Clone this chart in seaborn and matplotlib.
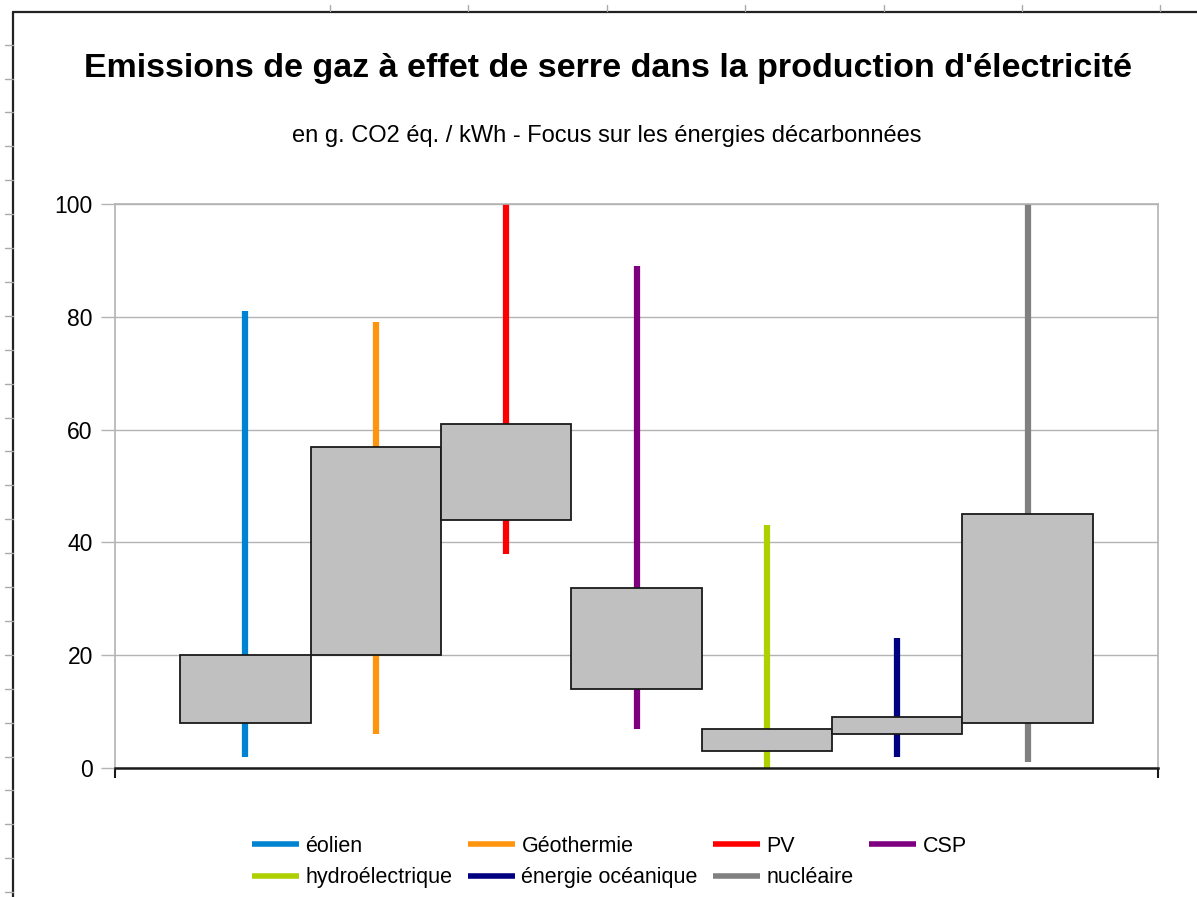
import matplotlib
matplotlib.use("Agg")
from matplotlib import pyplot as plt
from matplotlib.lines import Line2D
import numpy as np
import seaborn as sns

# sources and their values (g CO2 eq / kWh)
sources = ["éolien", "Géothermie", "PV", "CSP",
           "hydroélectrique", "énergie océanique", "nucléaire"]
low = [2, 6, 38, 7, 0, 2, 1]
q1 = [8, 20, 44, 14, 3, 6, 8]
q3 = [20, 57, 61, 32, 7, 9, 45]
high = [81, 79, 100, 89, 43, 23, 100]
colors = ["#0084d1", "#ff950e", "#ff0000", "#7e0080",
          "#aecf00", "#000080", "#808080"]

sns.set_style("white")
plt.rcParams['font.family'] = ['Liberation Sans', 'DejaVu Sans']
plt.rcParams['text.color'] = 'black'
plt.rcParams['ytick.labelcolor'] = 'black'

fig = plt.figure(figsize=(11.97, 8.97), dpi=100)
ax = fig.add_axes([115 / 1197, 1 - 768 / 897, (1158 - 115) / 1197, (768 - 204) / 897])

x = np.arange(len(sources))

# whiskers behind the boxes
ax.vlines(x, low, high, colors=colors, lw=4.5, zorder=2)
ax.bar(x, np.array(q3) - np.array(q1), bottom=q1, width=1.0,
       color="#c0c0c0", edgecolor="#1a1a1a", linewidth=1.3, zorder=3)

ax.set_xlim(-1, 7)
ax.set_ylim(0, 100)
ax.set_yticks([0, 20, 40, 60, 80, 100])
ax.yaxis.grid(True, color="#b3b3b3", lw=1)
ax.set_axisbelow(True)
ax.tick_params(axis="y", direction="out", length=10, color="#b3b3b3",
               width=1, labelsize=16.5, pad=6, left=True, labelcolor="black")
ax.set_xticks([-1, 7])
ax.set_xticklabels([])
ax.tick_params(axis="x", direction="out", length=7, color="#1a1a1a", width=1.5, bottom=True)

for s in ["left", "top", "right"]:
    ax.spines[s].set_color("#b3b3b3")
    ax.spines[s].set_linewidth(1.2)
ax.spines["bottom"].set_color("#1a1a1a")
ax.spines["bottom"].set_linewidth(1.8)

fig.text(0.508, 1 - 68 / 897, "Emissions de gaz à effet de serre dans la production d'électricité",
         ha="center", va="center", fontsize=24.5, fontweight="bold")
fig.text(0.507, 1 - 136 / 897, "en g. CO2 éq. / kWh - Focus sur les énergies décarbonnées",
         ha="center", va="center", fontsize=17)

# legend filled column by column, so order it to read row by row
order = [0, 4, 1, 5, 2, 6, 3]
handles = [Line2D([0], [0], color=colors[i], lw=4, solid_capstyle="butt") for i in order]
labels = [sources[i] for i in order]
fig.legend(handles, labels, loc="center", ncol=4, frameon=False,
           bbox_to_anchor=(0.509, 1 - 862 / 897), fontsize=15.5,
           handlelength=2.2, handletextpad=0.3, columnspacing=0.7,
           labelspacing=0.5)

# spreadsheet frame around the chart
fig.add_artist(Line2D([13 / 1197, 13 / 1197], [0, 1 - 12 / 897], color="#222222", lw=1.6,
                      transform=fig.transFigure))
fig.add_artist(Line2D([13 / 1197, 1], [1 - 12 / 897, 1 - 12 / 897], color="#222222", lw=1.6,
                      transform=fig.transFigure))
for yy in np.arange(44.7, 897, 33.9):
    fig.add_artist(Line2D([5 / 1197, 13 / 1197], [1 - yy / 897, 1 - yy / 897],
                          color="#aaaaaa", lw=1, transform=fig.transFigure))
for xx in np.arange(330, 1197, 138.4):
    fig.add_artist(Line2D([xx / 1197, xx / 1197], [1 - 5 / 897, 1 - 11 / 897],
                          color="#aaaaaa", lw=1, transform=fig.transFigure))

fig.savefig("out.png", dpi=100)
